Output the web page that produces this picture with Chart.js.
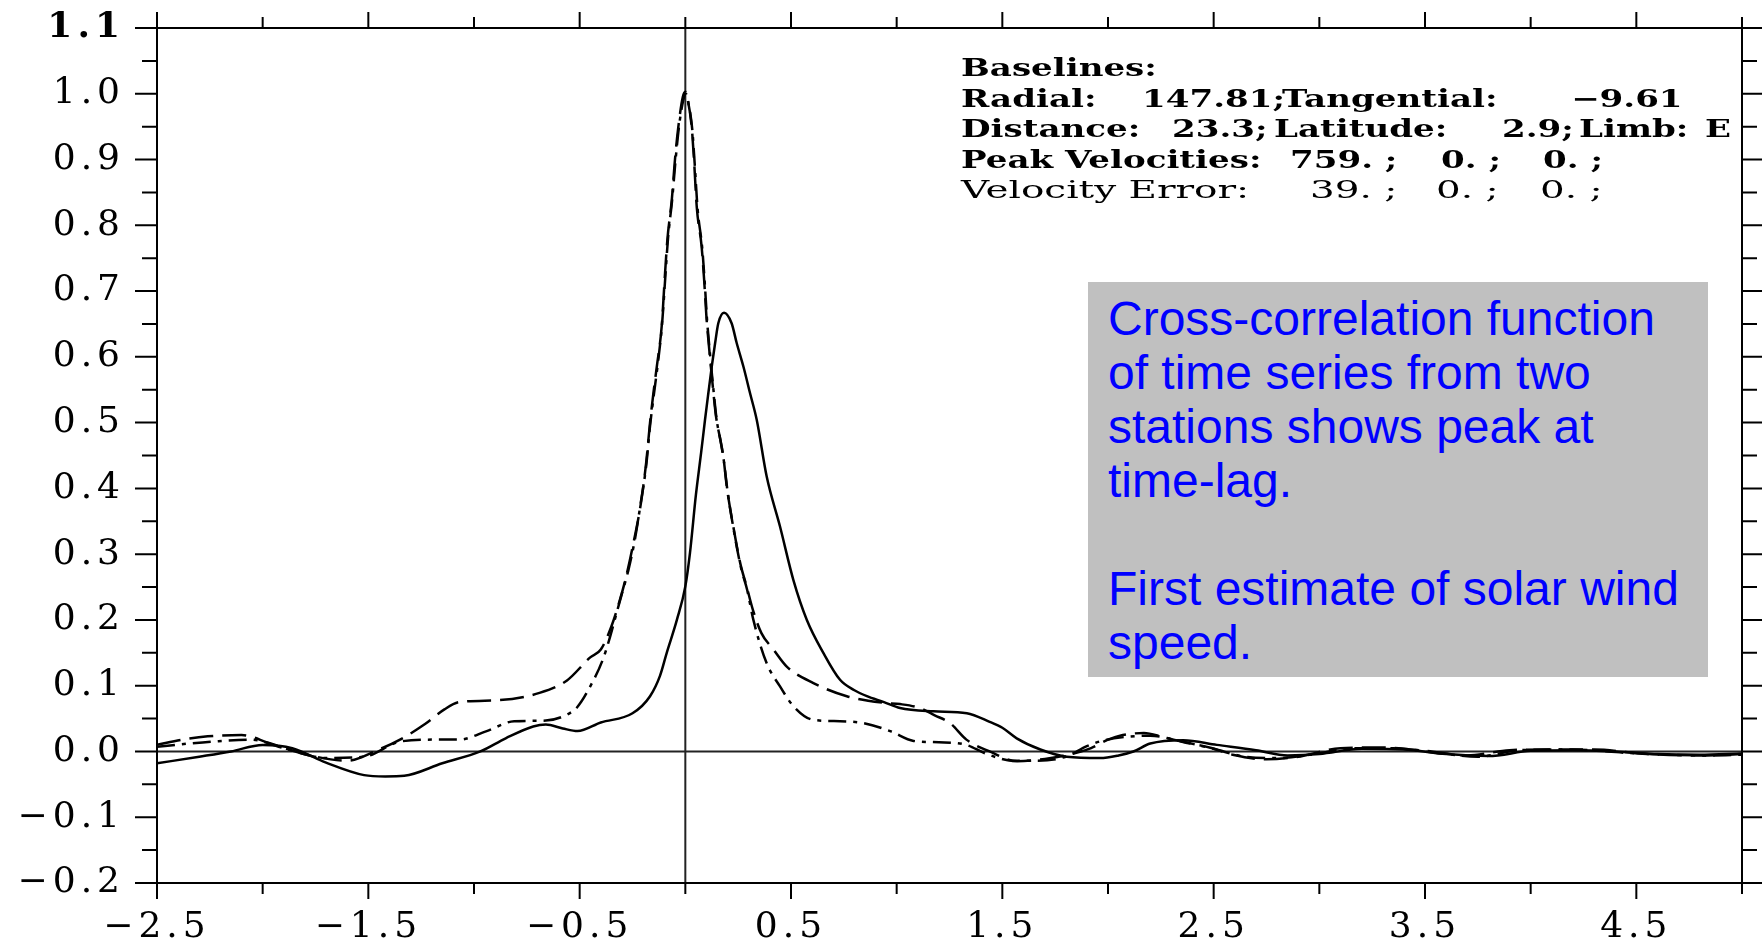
<!DOCTYPE html>
<html>
<head>
<meta charset="utf-8">
<title>Cross-correlation</title>
<script src="https://cdn.jsdelivr.net/npm/chart.js@4.4.0/dist/chart.umd.min.js"></script>
<style>
  body { margin: 0; background: #fff; }
  #wrap { position: relative; width: 1762px; height: 943px; }
  #info span {
    position: absolute; white-space: pre; color: #000;
    font: bold 24px "DejaVu Serif", serif; line-height: 30px;
    transform: scaleX(1.42); transform-origin: 0 0;
  }
  #info span.thin { font-weight: normal; transform: scaleX(1.62); }
  #note {
    position: absolute; left: 1088px; top: 282px; width: 600px; height: 385px;
    padding: 10px 0 0 20px; background: #c0c0c0; color: #0000ff;
    font: 48px "Liberation Sans", Arial, sans-serif; line-height: 54px;
  }
</style>
</head>
<body>
<div id="wrap">
  <canvas id="chart" width="1762" height="943"></canvas>
  <div id="info">
    <span style="left:961px;top:53px">Baselines:</span>
    <span style="left:961px;top:84px">Radial:</span>
    <span style="left:1142px;top:84px">147.81;</span>
    <span style="left:1282px;top:84px">Tangential:</span>
    <span style="left:1571px;top:84px">−9.61</span>
    <span style="left:961px;top:114px">Distance:</span>
    <span style="left:1172px;top:114px">23.3;</span>
    <span style="left:1274px;top:114px">Latitude:</span>
    <span style="left:1502px;top:114px">2.9;</span>
    <span style="left:1579px;top:114px">Limb:</span>
    <span style="left:1705px;top:114px">E</span>
    <span style="left:961px;top:145px">Peak Velocities:</span>
    <span style="left:1290px;top:145px">759. ;</span>
    <span style="left:1441px;top:145px">0. ;</span>
    <span style="left:1543px;top:145px">0. ;</span>
    <span class="thin" style="left:961px;top:175px">Velocity Error:</span>
    <span class="thin" style="left:1310px;top:175px">39. ;</span>
    <span class="thin" style="left:1436px;top:175px">0. ;</span>
    <span class="thin" style="left:1540px;top:175px">0. ;</span>
  </div>
  <div id="note">Cross-correlation function<br>of time series from two<br>stations shows peak at<br>time-lag.<br><br>First estimate of solar wind<br>speed.</div>
</div>
<script>
// solid curve
var solidX = [-2.5, -2.3, -2.15, -2.0, -1.86, -1.7, -1.52, -1.42, -1.33, -1.15, -0.97, -0.85, -0.72, -0.66, -0.58, -0.51, -0.40, -0.25, -0.167, -0.12, -0.088, -0.04, 0.0, 0.022, 0.05, 0.075, 0.093, 0.109, 0.125, 0.141, 0.156, 0.183, 0.219, 0.243, 0.275, 0.306, 0.338, 0.385, 0.448, 0.511, 0.575, 0.653, 0.732, 0.80, 0.859, 0.94, 1.016, 1.174, 1.332, 1.44, 1.50, 1.568, 1.68, 1.805, 1.963, 2.05, 2.12, 2.2, 2.356, 2.515, 2.7, 2.85, 3.0, 3.2, 3.4, 3.6, 3.8, 4.0, 4.2, 4.4, 4.6, 4.8, 5.0];
var solidY = [-0.018, -0.008, 0.0, 0.010, 0.005, -0.017, -0.036, -0.038, -0.037, -0.018, 0.0, 0.02, 0.038, 0.041, 0.035, 0.031, 0.044, 0.058, 0.084, 0.115, 0.15, 0.20, 0.251, 0.302, 0.39, 0.455, 0.504, 0.545, 0.585, 0.621, 0.651, 0.667, 0.651, 0.621, 0.585, 0.545, 0.504, 0.418, 0.342, 0.261, 0.20, 0.15, 0.109, 0.093, 0.084, 0.075, 0.066, 0.061, 0.058, 0.045, 0.036, 0.020, 0.003, -0.008, -0.010, -0.006, 0.0, 0.012, 0.017, 0.010, 0.002, -0.006, -0.004, 0.004, 0.003, -0.004, -0.007, 0.001, 0.002, 0.0, -0.004, -0.005, -0.003];

// long dashed curve
var dashX = [-2.5, -2.38, -2.26, -2.1, -1.97, -1.79, -1.6, -1.45, -1.35, -1.23, -1.14, -1.07, -0.88, -0.69, -0.56, -0.45, -0.40, -0.35, -0.31, -0.28, -0.25, -0.21, -0.185, -0.167, -0.151, -0.135, -0.112, -0.096, -0.085, -0.064, -0.049, -0.033, -0.012, 0.0, 0.012, 0.030, 0.041, 0.054, 0.077, 0.089, 0.10, 0.115, 0.13, 0.145, 0.165, 0.18, 0.196, 0.227, 0.26, 0.29, 0.32, 0.36, 0.417, 0.48, 0.606, 0.764, 0.937, 1.016, 1.11, 1.18, 1.253, 1.33, 1.44, 1.57, 1.73, 1.85, 1.92, 2.0, 2.07, 2.17, 2.26, 2.36, 2.48, 2.59, 2.75, 2.9, 3.1, 3.3, 3.5, 3.7, 3.9, 4.1, 4.3, 4.55, 4.8, 5.0];
var dashY = [0.010, 0.018, 0.023, 0.025, 0.013, -0.005, -0.014, 0.003, 0.018, 0.042, 0.064, 0.075, 0.078, 0.089, 0.108, 0.143, 0.155, 0.19, 0.23, 0.266, 0.31, 0.378, 0.44, 0.50, 0.545, 0.585, 0.646, 0.727, 0.778, 0.839, 0.90, 0.95, 0.995, 1.003, 0.99, 0.95, 0.90, 0.828, 0.768, 0.717, 0.66, 0.605, 0.555, 0.51, 0.475, 0.448, 0.403, 0.342, 0.286, 0.251, 0.215, 0.18, 0.155, 0.129, 0.104, 0.084, 0.074, 0.072, 0.066, 0.055, 0.043, 0.018, 0.0, -0.015, -0.010, -0.002, 0.005, 0.018, 0.025, 0.028, 0.022, 0.014, 0.006, -0.005, -0.012, -0.008, 0.005, 0.006, 0.001, -0.006, 0.002, 0.003, 0.003, -0.004, -0.006, -0.004];

// dash-dot curve
var dotX = [-2.5, -2.35, -2.24, -2.06, -1.88, -1.7, -1.52, -1.35, -1.19, -1.07, -0.94, -0.81, -0.66, -0.56, -0.51, -0.44, -0.39, -0.36, -0.33, -0.30, -0.27, -0.24, -0.21, -0.185, -0.167, -0.15, -0.13, -0.11, -0.094, -0.082, -0.062, -0.046, -0.03, -0.01, 0.003, 0.015, 0.033, 0.044, 0.058, 0.08, 0.092, 0.103, 0.118, 0.133, 0.148, 0.168, 0.183, 0.2, 0.23, 0.263, 0.293, 0.322, 0.385, 0.448, 0.511, 0.606, 0.732, 0.843, 0.969, 1.08, 1.2, 1.33, 1.42, 1.55, 1.66, 1.8, 1.9, 1.97, 2.08, 2.2, 2.35, 2.5, 2.65, 2.8, 3.0, 3.15, 3.35, 3.55, 3.75, 3.95, 4.2, 4.45, 4.65, 4.85, 5.0];
var dotY = [0.007, 0.012, 0.015, 0.018, 0.003, -0.010, -0.008, 0.015, 0.018, 0.018, 0.031, 0.046, 0.047, 0.056, 0.068, 0.105, 0.14, 0.17, 0.205, 0.24, 0.275, 0.32, 0.38, 0.435, 0.495, 0.54, 0.59, 0.65, 0.725, 0.78, 0.84, 0.90, 0.95, 0.99, 1.0, 0.985, 0.945, 0.895, 0.825, 0.765, 0.712, 0.655, 0.60, 0.55, 0.505, 0.47, 0.44, 0.395, 0.335, 0.28, 0.245, 0.20, 0.134, 0.099, 0.069, 0.048, 0.046, 0.043, 0.031, 0.016, 0.014, 0.010, -0.003, -0.014, -0.014, -0.008, 0.008, 0.016, 0.022, 0.024, 0.015, 0.004, -0.008, -0.010, -0.003, 0.005, 0.005, -0.002, -0.008, 0.002, 0.003, -0.002, -0.005, -0.006, -0.005];

function toPoints(xs, ys) {
  return xs.map(function (x, i) { return { x: x, y: ys[i] }; });
}

function fmt(v) {
  var s = (Math.round(v * 10) / 10).toFixed(1);
  if (s === '-0.0') s = '0.0';
  return s.replace('-', '\u2212');
}
function isTenth(v) { return Math.abs(v * 10 - Math.round(v * 10)) < 1e-6; }
function isHalf(v) { return Math.abs(Math.abs(v - Math.floor(v)) - 0.5) < 1e-6; }

// wide spacing for the tick labels (canvas state is reset on resize, so set it each pass)
function spaceOut(chart) { chart.ctx.letterSpacing = '5px'; }

// frame, zero lines and tick marks drawn through the scales
var axesFrame = {
  id: 'axesFrame',
  beforeLayout: spaceOut,
  beforeDraw: spaceOut,
  beforeDatasetsDraw: function (chart) {
    var ctx = chart.ctx, a = chart.chartArea;
    var x0 = chart.scales.x.getPixelForValue(0);
    var y0 = chart.scales.y.getPixelForValue(0);
    ctx.save();
    ctx.strokeStyle = '#222';
    ctx.lineWidth = 2;
    ctx.beginPath();
    ctx.moveTo(a.left, y0); ctx.lineTo(a.right, y0);
    ctx.moveTo(x0, a.top); ctx.lineTo(x0, a.bottom);
    ctx.stroke();
    ctx.restore();
  },
  afterDraw: function (chart) {
    var ctx = chart.ctx, a = chart.chartArea;
    var xs = chart.scales.x, ys = chart.scales.y;
    ctx.save();
    ctx.strokeStyle = '#000';
    ctx.lineWidth = 2;
    ctx.strokeRect(a.left, a.top, a.right - a.left, a.bottom - a.top);
    ctx.beginPath();
    xs.ticks.forEach(function (t) {
      var px = xs.getPixelForValue(t.value);
      var len = isHalf(t.value) ? 16 : 11;
      ctx.moveTo(px, a.bottom); ctx.lineTo(px, a.bottom + len);
      ctx.moveTo(px, a.top); ctx.lineTo(px, a.top - len);
    });
    ys.ticks.forEach(function (t) {
      var py = ys.getPixelForValue(t.value);
      var len = isTenth(t.value) ? 22 : 15;
      ctx.moveTo(a.left, py); ctx.lineTo(a.left - len, py);
      ctx.moveTo(a.right, py); ctx.lineTo(a.right + len, py);
    });
    ctx.stroke();
    ctx.restore();
  }
};

new Chart(document.getElementById('chart'), {
  type: 'scatter',
  data: {
    datasets: [
      { label: 'solid', data: toPoints(solidX, solidY), borderColor: '#000', borderWidth: 2.5 },
      { label: 'dashed', data: toPoints(dashX, dashY), borderColor: '#000', borderWidth: 2.5, borderDash: [24, 9] },
      { label: 'dash-dot', data: toPoints(dotX, dotY), borderColor: '#000', borderWidth: 2.5, borderDash: [18, 7, 4, 7] }
    ]
  },
  options: {
    responsive: false,
    devicePixelRatio: 1,
    animation: false,
    showLine: true,
    elements: {
      point: { radius: 0 },
      line: { cubicInterpolationMode: 'monotone', fill: false }
    },
    layout: { padding: { left: 0, right: 20, top: 28, bottom: 0 } },
    plugins: { legend: { display: false }, tooltip: { enabled: false } },
    scales: {
      x: {
        type: 'linear', min: -2.5, max: 5.0,
        grid: { display: false, drawTicks: false },
        border: { display: false },
        afterFit: function (s) { s.height = 60; s.paddingLeft = 0; s.paddingRight = 0; },
        ticks: {
          stepSize: 0.5, autoSkip: false, maxRotation: 0, padding: 23,
          color: '#000', font: { family: 'DejaVu Serif', size: 36 },
          callback: function (v) { return isHalf(v) ? fmt(v) : ''; }
        }
      },
      y: {
        type: 'linear', min: -0.2, max: 1.1,
        grid: { display: false, drawTicks: false },
        border: { display: false },
        afterFit: function (s) { s.width = 157; s.paddingTop = 0; s.paddingBottom = 0; },
        ticks: {
          stepSize: 0.05, autoSkip: false, padding: 32,
          color: '#000',
          font: function (c) {
            return { family: 'DejaVu Serif', size: 36, weight: (c.tick && c.tick.value > 1.05) ? 'bold' : 'normal' };
          },
          callback: function (v) { return isTenth(v) ? fmt(v) : ''; }
        }
      }
    }
  },
  plugins: [axesFrame]
});
</script>
</body>
</html>
